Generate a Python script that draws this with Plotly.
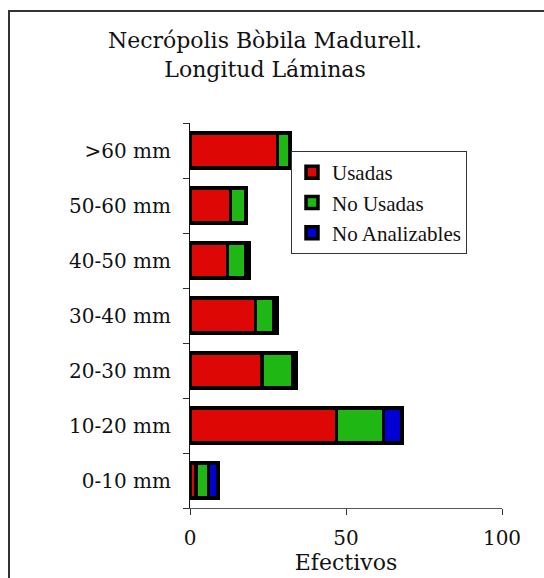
import plotly.graph_objects as go

# Length classes (bottom to top on the category axis)
categories = ["0-10 mm", "10-20 mm", "20-30 mm", "30-40 mm", "40-50 mm", "50-60 mm", ">60 mm"]

# Counts per class
usadas = [2, 47, 23, 21, 12, 13, 28]
no_usadas = [4, 15, 10, 6, 6, 5, 4]
no_analizables = [3, 6, 1, 1, 1, 0, 0]

series_names = ["Usadas", "No Usadas", "No Analizables"]
series_colors = ["#DD0806", "#1FB714", "#0000D4"]

x_ticks = [0, 50, 100]

TICK_FONT = "DejaVu Serif"
LEGEND_FONT = "Liberation Serif"

fig = go.Figure()
for name, vals, color in zip(series_names, [usadas, no_usadas, no_analizables], series_colors):
    fig.add_trace(go.Bar(
        y=categories,
        x=[v if v else None for v in vals],
        name=name,
        orientation="h",
        marker=dict(color=color, line=dict(color="#000000", width=3.5)),
    ))

# Plot area in pixels
W, H = 544, 578
L, R, T, B = 190, 42, 123, 70
pw, ph = W - L - R, H - T - B


def px_to_paper_x(px):
    return (px - L) / pw


def px_to_paper_y(py):
    return (H - B - py) / ph


# Outer frame around the chart, drawn as an empty bordered box
fig.add_annotation(
    xref="paper", yref="paper",
    x=px_to_paper_x(8), y=px_to_paper_y(10),
    xanchor="left", yanchor="top",
    text=" ", width=600, height=620,
    bordercolor="#333333", borderwidth=2, borderpad=0,
    showarrow=False,
)

fig.update_layout(
    width=W, height=H,
    margin=dict(l=L, r=R, t=T, b=B, autoexpand=False),
    barmode="stack",
    bargap=0.36,
    plot_bgcolor="white",
    paper_bgcolor="white",
    title=dict(
        text="Necrópolis Bòbila Madurell.<br>Longitud Láminas",
        x=265 / W, xanchor="center",
        y=1 - 48 / H, yanchor="top",
        font=dict(family=TICK_FONT, size=22, color="#111111"),
    ),
    showlegend=True,
    legend=dict(
        x=px_to_paper_x(291), y=px_to_paper_y(151),
        xanchor="left", yanchor="top",
        traceorder="normal",
        font=dict(family=LEGEND_FONT, size=21, color="#111111"),
        bgcolor="white",
        bordercolor="#333333", borderwidth=1,
        itemwidth=30,
    ),
    xaxis=dict(
        range=[0, 100],
        tickvals=x_ticks,
        ticktext=[str(v) for v in x_ticks],
        ticks="outside", ticklen=6, tickcolor="#333333",
        showline=True, linecolor="#555555", linewidth=1,
        showgrid=False, zeroline=False,
        tickfont=dict(family=TICK_FONT, size=20, color="#111111"),
        ticklabelstandoff=6,
        title=dict(text="Efectivos", font=dict(family=TICK_FONT, size=22, color="#111111"), standoff=0),
    ),
    yaxis=dict(
        categoryorder="array", categoryarray=categories,
        tickson="boundaries",
        ticks="outside", ticklen=6, tickcolor="#333333",
        showline=True, linecolor="#111111", linewidth=1,
        showgrid=False, zeroline=False,
        tickfont=dict(family=TICK_FONT, size=20, color="#111111"),
        ticklabelstandoff=14,
    ),
)

fig.write_html("out.html")
